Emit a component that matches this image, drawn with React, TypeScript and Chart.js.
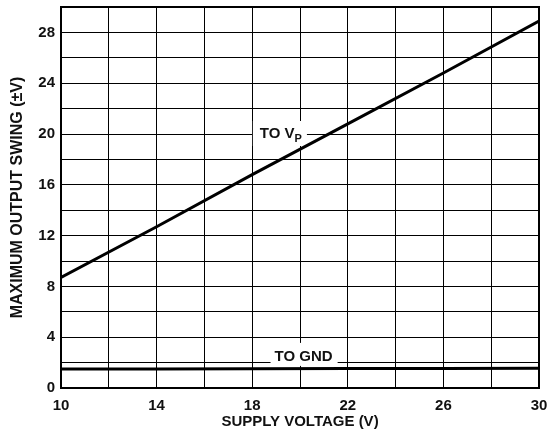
import React, { useEffect, useRef } from "react";
import { Chart, registerables } from "chart.js";

Chart.register(...registerables);

const supplyVoltage = [10, 14, 18, 22, 26, 30];
const toVp = [8.7, 12.7, 16.8, 20.8, 24.8, 28.9];
const toGnd = [1.5, 1.5, 1.52, 1.53, 1.54, 1.55];

const xTitle = "SUPPLY VOLTAGE (V)";
const yTitle = "MAXIMUM OUTPUT SWING (\u00B1V)";
const vpLabel = { main: "TO V", sub: "P", x: 19.2, y: 20 };
const gndLabel = { text: "TO GND", x: 20.15, y: 2.45 };

const FONT = '"Liberation Sans", Arial, Helvetica, sans-serif';

const framePlugin = {
  id: "frame",
  beforeDatasetsDraw(chart: any) {
    const { ctx, scales } = chart;
    const xs = scales.x;
    const ys = scales.y;
    ctx.save();
    ctx.textBaseline = "middle";
    ctx.textAlign = "left";
    {
      const cx = xs.getPixelForValue(vpLabel.x);
      const cy = ys.getPixelForValue(vpLabel.y);
      ctx.font = `bold 15px ${FONT}`;
      const w1 = ctx.measureText(vpLabel.main).width;
      ctx.font = `bold 11px ${FONT}`;
      const w2 = ctx.measureText(vpLabel.sub).width;
      const w = w1 + w2;
      const sx = cx - w / 2;
      ctx.fillStyle = "#fff";
      ctx.fillRect(sx - 7, cy - 13, w + 12, 25);
      ctx.fillStyle = "#111";
      ctx.font = `bold 15px ${FONT}`;
      ctx.fillText(vpLabel.main, sx, cy);
      ctx.font = `bold 11px ${FONT}`;
      ctx.fillText(vpLabel.sub, sx + w1, cy + 5);
    }
    {
      const cx = xs.getPixelForValue(gndLabel.x);
      const cy = ys.getPixelForValue(gndLabel.y);
      ctx.font = `bold 15px ${FONT}`;
      const w = ctx.measureText(gndLabel.text).width;
      const sx = cx - w / 2;
      ctx.fillStyle = "#fff";
      ctx.fillRect(sx - 4, cy - 14, w + 9, 23);
      ctx.fillStyle = "#111";
      ctx.fillText(gndLabel.text, sx, cy);
    }
    ctx.restore();
  },
  afterDraw(chart: any) {
    const { ctx, chartArea } = chart;
    ctx.save();
    ctx.strokeStyle = "#000";
    ctx.lineWidth = 2;
    ctx.strokeRect(
      chartArea.left,
      chartArea.top,
      chartArea.right - chartArea.left,
      chartArea.bottom - chartArea.top
    );
    ctx.restore();
  },
};

export default function App() {
  const ref = useRef<HTMLCanvasElement>(null);

  useEffect(() => {
    if (!ref.current) return;
    const chart = new Chart(ref.current, {
      type: "line",
      data: {
        datasets: [
          {
            label: "TO VP",
            data: supplyVoltage.map((x, i) => ({ x, y: toVp[i] })),
            borderColor: "#000",
            borderWidth: 3,
            pointRadius: 0,
            tension: 0,
            fill: false,
          },
          {
            label: "TO GND",
            data: supplyVoltage.map((x, i) => ({ x, y: toGnd[i] })),
            borderColor: "#000",
            borderWidth: 3,
            pointRadius: 0,
            tension: 0,
            fill: false,
          },
        ],
      },
      options: {
        responsive: false,
        animation: false,
        layout: { padding: { top: 7, right: 12, left: 0, bottom: 0 } },
        plugins: {
          legend: { display: false },
          tooltip: { enabled: false },
        },
        scales: {
          x: {
            type: "linear",
            min: 10,
            max: 30,
            afterFit: (s: any) => {
              s.height = 46;
              s.paddingLeft = 0;
              s.paddingRight = 0;
            },
            border: { display: false },
            grid: { color: "#000", lineWidth: 1, drawTicks: false },
            ticks: {
              stepSize: 2,
              autoSkip: false,
              maxRotation: 0,
              padding: 9,
              color: "#111",
              font: { family: FONT, size: 15, weight: "bold" },
              callback: (v: any) => ((Number(v) - 10) % 4 === 0 ? String(v) : ""),
            },
            title: {
              display: true,
              text: xTitle,
              color: "#111",
              font: { family: FONT, size: 15, weight: "bold" },
              padding: { top: 0, bottom: 3 },
            },
          },
          y: {
            type: "linear",
            min: 0,
            max: 30,
            afterFit: (s: any) => {
              s.width = 61;
              s.paddingTop = 0;
              s.paddingBottom = 0;
            },
            border: { display: false },
            grid: { color: "#000", lineWidth: 1, drawTicks: false },
            ticks: {
              stepSize: 2,
              autoSkip: false,
              padding: 6,
              color: "#111",
              font: { family: FONT, size: 15, weight: "bold" },
              callback: (v: any) =>
                Number(v) % 4 === 0 && Number(v) < 30 ? String(v) : "",
            },
            title: {
              display: true,
              text: yTitle,
              color: "#111",
              font: { family: FONT, size: 16, weight: "bold" },
              padding: { top: 8, bottom: 0 },
            },
          },
        },
      },
      plugins: [framePlugin],
    });
    return () => chart.destroy();
  }, []);

  return (
    <div style={{ position: "fixed", left: 0, top: 0, width: 551, height: 434, background: "#fff" }}>
      <canvas ref={ref} width={551} height={434} style={{ display: "block" }} />
    </div>
  );
}
